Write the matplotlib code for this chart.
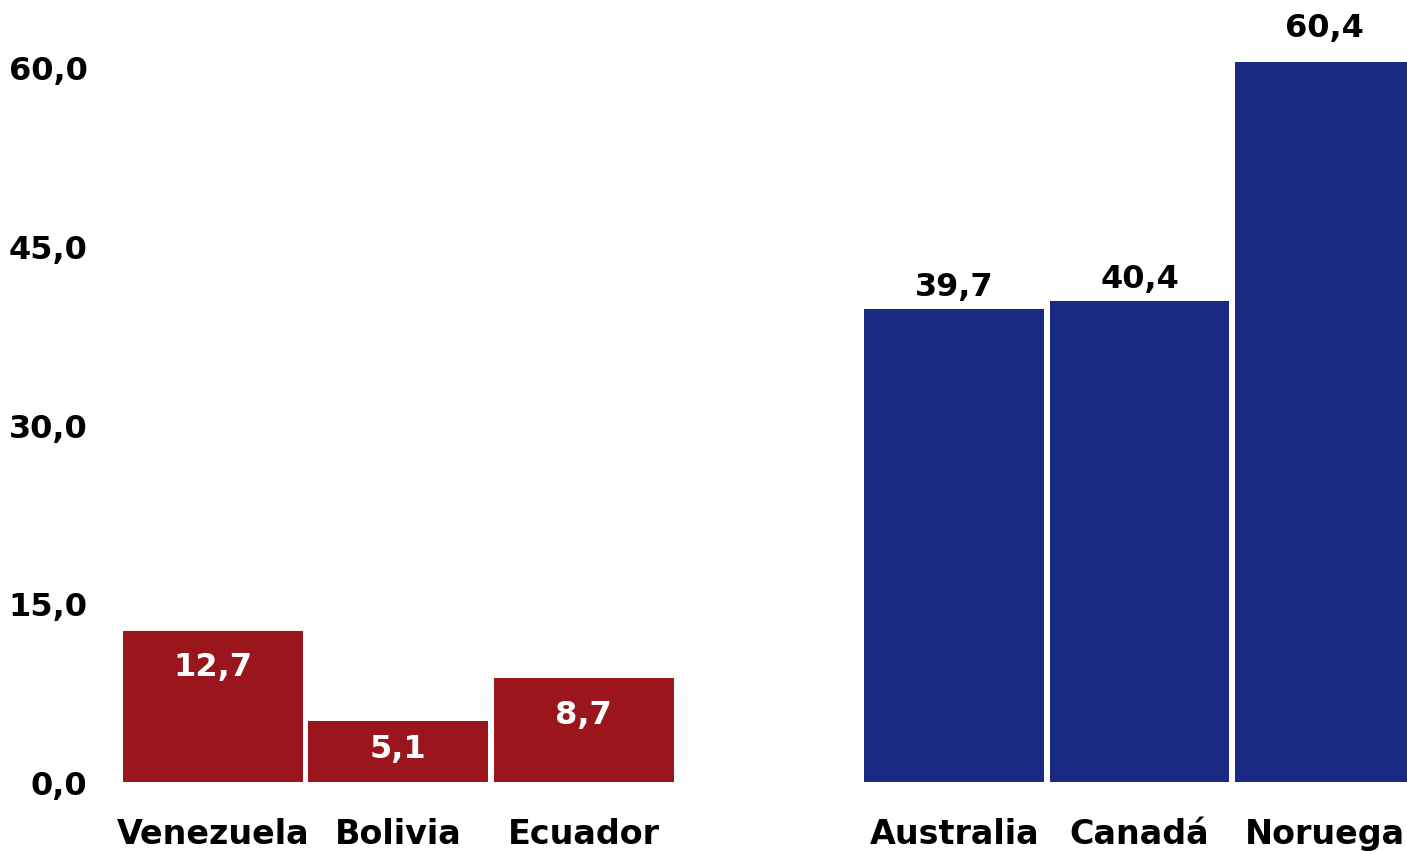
import matplotlib
matplotlib.use("Agg")
import matplotlib.pyplot as plt
import numpy as np

# --- [ bar chart: two country groups ] ---

countries = ["Venezuela", "Bolivia", "Ecuador", "", "Australia", "Canadá", "Noruega"]
values = [12.7, 5.1, 8.7, None, 39.7, 40.4, 60.4]
value_labels = ["12,7", "5,1", "8,7", "", "39,7", "40,4", "60,4"]
y_ticks = [0, 15, 30, 45, 60]
y_tick_labels = ["0,0", "15,0", "30,0", "45,0", "60,0"]

RED = "#9B151D"
BLUE = "#1A2A82"
FONT = "DejaVu Sans"

plt.rcParams["font.family"] = [FONT]

fig = plt.figure(figsize=(14.07, 8.53), dpi=100)
ax = fig.add_axes([100 / 1407, 70 / 853, 1307 / 1407, 740 / 853])

x = np.arange(len(countries))
width = 0.97
for i, (v, lab) in enumerate(zip(values, value_labels)):
    if v is None:
        continue
    color = RED if i < 3 else BLUE
    ax.bar(x[i], v, width=width, color=color, linewidth=0)
    if i < 3:
        if v < 7:
            # short bar: centre the label inside it
            ax.annotate(lab, (x[i], v / 2), xytext=(0, 2), textcoords="offset points",
                        ha="center", va="center", color="white", fontsize=23, fontweight="bold")
        else:
            ax.annotate(lab, (x[i], v), xytext=(0, -15), textcoords="offset points",
                        ha="center", va="top", color="white", fontsize=23, fontweight="bold")
    else:
        lift = 14 if v > 50 else 5
        ax.annotate(lab, (x[i], v), xytext=(0, lift), textcoords="offset points",
                    ha="center", va="bottom", color="black", fontsize=23, fontweight="bold",
                    annotation_clip=False)

ax.set_xlim(-0.61, 6.443)
ax.set_ylim(0, 62.1)
ax.set_xticks(x)
ax.set_xticklabels(countries, fontsize=24, fontweight="bold")
ax.set_yticks(y_ticks)
ax.set_yticklabels(y_tick_labels, fontsize=23, fontweight="bold")
ax.tick_params(axis="x", length=0, pad=25)
ax.tick_params(axis="y", length=0, pad=9)
for side in ax.spines.values():
    side.set_visible(False)

fig.savefig("out.png", dpi=100)
